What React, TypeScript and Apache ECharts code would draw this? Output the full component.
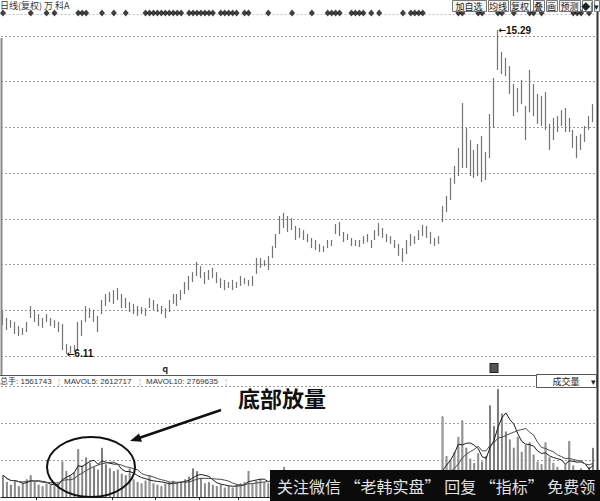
import React, { useEffect, useRef } from "react";
import * as echarts from "echarts";

// Daily bars: [open, close, low, high]
const candles: number[][] = [
  [7.30,7.00,6.93,7.36],[7.05,6.85,6.79,7.13],[6.90,7.02,6.85,7.07],[6.98,6.72,6.68,7.02],[6.70,6.85,6.62,6.90],
  [6.80,6.68,6.65,6.85],[6.75,6.98,6.73,7.02],[7.15,7.42,7.13,7.47],[7.33,7.08,7.02,7.36],[7.10,6.95,6.90,7.24],
  [6.92,7.10,6.85,7.13],[7.08,7.20,7.02,7.24],[7.10,6.95,6.90,7.13],[6.95,6.90,6.85,7.07],[6.98,6.78,6.73,7.02],
  [6.90,6.30,6.22,6.96],[6.30,6.20,6.11,6.39],[6.20,6.28,6.14,6.34],[6.30,6.22,6.17,6.36],[6.25,6.95,6.22,7.02],
  [6.95,6.70,6.62,7.07],[7.05,7.40,7.02,7.47],[7.38,7.20,7.13,7.41],[7.20,7.30,7.02,7.36],[7.15,6.80,6.73,7.19],
  [7.28,7.60,7.24,7.64],[7.55,7.75,7.47,7.81],[7.78,7.65,7.58,7.87],[7.60,7.88,7.53,7.92],[7.90,7.70,7.64,7.98],
  [7.75,7.45,7.41,7.81],[7.48,7.62,7.41,7.70],[7.55,7.35,7.30,7.58],[7.35,7.48,7.24,7.53],[7.45,7.25,7.19,7.47],
  [7.28,7.40,7.24,7.44],[7.38,7.22,7.19,7.41],[7.45,7.66,7.41,7.70],[7.60,7.40,7.36,7.64],[7.45,7.35,7.30,7.53],
  [7.30,7.42,7.24,7.47],[7.38,7.18,7.13,7.41],[7.32,7.60,7.30,7.64],[7.58,7.78,7.53,7.81],[7.75,7.52,7.47,7.81],
  [7.66,7.88,7.64,7.92],[7.85,8.10,7.81,8.15],[8.00,8.28,7.92,8.32],[8.20,8.40,8.15,8.43],[8.38,8.68,8.32,8.72],
  [8.55,8.30,8.26,8.60],[8.35,8.15,8.09,8.43],[8.25,8.45,8.21,8.49],[8.45,8.30,8.26,8.55],[8.38,8.15,8.12,8.43],
  [8.20,8.02,7.98,8.26],[8.00,8.15,7.92,8.21],[8.12,8.02,7.98,8.15],[8.00,8.18,7.92,8.21],[8.12,8.03,7.98,8.15],
  [8.06,8.28,8.04,8.32],[8.22,8.12,8.09,8.26],[8.15,8.08,8.04,8.21],[8.08,8.30,8.04,8.32],[8.42,8.78,8.38,8.83],
  [8.75,8.60,8.55,8.83],[8.65,8.72,8.60,8.77],[8.70,8.55,8.49,8.89],[8.85,9.12,8.83,9.17],[9.15,9.45,9.11,9.51],
  [9.55,9.95,9.51,10.02],[9.95,9.75,9.68,10.11],[9.75,9.95,9.57,10.02],[9.90,9.68,9.62,9.96],[9.68,9.40,9.34,9.74],
  [9.45,9.62,9.40,9.68],[9.58,9.38,9.34,9.62],[9.40,9.32,9.28,9.51],[9.35,9.15,9.11,9.40],[9.15,9.28,9.06,9.34],
  [9.20,9.05,9.00,9.23],[9.05,9.12,9.00,9.17],[9.14,9.30,9.11,9.34],[9.28,9.20,9.17,9.34],[9.55,9.75,9.51,9.79],
  [9.78,9.50,9.45,9.85],[9.52,9.32,9.28,9.57],[9.36,9.48,9.34,9.51],[9.38,9.20,9.17,9.40],[9.22,9.30,9.17,9.34],
  [9.30,9.18,9.14,9.34],[9.25,9.42,9.23,9.45],[9.40,9.32,9.28,9.51],[9.30,9.15,9.11,9.34],[9.36,9.58,9.34,9.62],
  [9.55,9.78,9.45,9.82],[9.65,9.45,9.40,9.68],[9.48,9.32,9.28,9.51],[9.35,9.26,9.23,9.45],[9.28,9.15,9.11,9.34],
  [9.15,8.95,8.89,9.23],[8.95,8.80,8.72,9.11],[8.98,9.30,8.94,9.34],[9.25,9.45,9.17,9.51],[9.42,9.28,9.23,9.45],
  [9.36,9.58,9.34,9.62],[9.55,9.72,9.45,9.77],[9.70,9.45,9.40,9.74],[9.50,9.28,9.23,9.57],[9.28,9.22,9.17,9.40],
  [9.25,9.42,9.23,9.45],[9.90,10.25,9.85,10.30],[10.20,10.52,10.13,10.59],[10.52,11.02,10.47,11.10],[11.00,11.38,10.93,11.44],
  [11.30,11.85,11.15,11.95],[11.90,12.20,11.38,13.22],[12.30,11.60,11.38,12.51],[11.70,11.40,11.15,12.17],[11.40,11.75,11.10,11.89],
  [11.75,11.30,11.15,12.06],[11.30,12.10,10.98,12.29],[11.70,11.20,11.04,11.83],[11.70,12.85,11.66,12.91],[12.60,13.85,12.51,13.93],
  [14.20,14.50,14.16,15.29],[14.55,14.15,14.04,14.67],[14.10,14.40,13.98,14.50],[14.20,13.55,13.48,14.27],[13.60,12.95,12.85,13.76],
  [13.00,13.55,12.96,13.65],[13.50,13.30,13.19,13.87],[13.10,12.30,12.17,13.14],[13.00,14.00,12.96,14.16],[13.70,12.95,12.85,13.76],
  [12.95,13.30,12.63,13.48],[13.30,12.70,12.57,13.42],[12.70,13.40,12.46,13.53],[12.55,12.00,11.89,12.63],[12.20,12.70,12.17,12.80],
  [12.70,12.50,12.40,12.85],[12.60,12.95,12.57,13.02],[12.95,12.50,12.40,13.08],[12.50,12.72,12.40,12.80],[12.40,12.05,11.95,12.46],
  [12.10,11.80,11.66,12.29],[11.95,12.25,11.89,12.34],[12.20,12.50,12.12,12.57],[12.50,12.80,12.46,12.85],[12.75,13.10,12.68,13.19],
];

// Volume in units of 10,000 lots (万手)
const volumes: number[] = [
  160,110,90,120,80,100,130,160,110,90,80,100,90,80,100,
  260,190,160,180,350,230,290,250,220,200,360,240,210,190,200,170,160,210,130,110,100,
  120,160,100,90,80,100,110,120,100,110,130,150,210,190,140,100,110,90,80,90,70,80,70,90,100,
  110,190,100,120,130,110,100,140,160,180,220,150,120,110,100,90,100,80,90,80,70,90,80,140,150,
  100,90,80,70,80,90,80,90,110,130,100,90,80,90,100,120,110,100,90,110,120,100,90,80,100,
  590,300,270,330,440,560,360,280,250,320,260,300,670,520,790,610,480,420,360,440,330,380,400,310,260,240,400,290,250,220,200,240,410,230,190,210,170,220,360,
];

// Bars that carry an information marker (diamond row)
const eventBars: number[] = [0,7,11,13,19,20,21,25,28,31,36,37,38,39,40,41,42,43,44,45,47,48,49,50,51,52,53,55,56,57,58,59,61,62,67,73,78,82,83,84,85,88,89,90,91,93,95,101,103,104,105,106,115,116,120,121,125,126,129,133,134,136,144,145,146,148];

// Period labels on the date axis
const periodLabels: Record<number, string> = { 41: "q", 124: "box" };
// Month ticks on the volume axis
const volTickBars: number[] = [9, 28, 39, 50, 60];

const headerTexts = { total: "总手: 1561743", ma5: "MAVOL5: 2612717", ma10: "MAVOL10: 2769635" };
const toolbarLabels = ["加自选", "均线", "复权", "叠", "画", "预测", "◆|", "▾"];
const title = "日线(复权) 万 科A";
const annotation = "底部放量";
const bannerText = "关注微信 “老韩实盘” 回复 “指标” 免费领";

const categories = candles.map((_, i) => "D" + (i + 1));

function movingAverage(data: number[], n: number): number[] {
  return data.map((_, i) => {
    const s = Math.max(0, i - n + 1);
    const w = data.slice(s, i + 1);
    return Math.round((w.reduce((a, b) => a + b, 0) / w.length) * 10) / 10;
  });
}

const LAT = '"Liberation Sans", Arial, "Noto Sans CJK SC", sans-serif';
const CJK = '"Noto Sans CJK SC", "Liberation Sans", sans-serif';

export default function App() {
  const ref = useRef<HTMLDivElement>(null);
  useEffect(() => {
    if (!ref.current) return;
    const chart = echarts.init(ref.current, undefined, { renderer: "svg" });
    const ma5 = movingAverage(volumes, 5);
    const ma10 = movingAverage(volumes, 10);
    const volData = volumes.map((v, i) => {
      const up = candles[i][1] >= candles[i][0];
      return {
        value: v,
        itemStyle: up
          ? { color: "#ffffff", borderColor: "#7a7a7a", borderWidth: 1 }
          : { color: "#8a8a8a", borderColor: "#8a8a8a", borderWidth: 0 },
      };
    });

    const toolbarBoxes = [[452, 486], [488, 508], [510, 530], [533, 544], [546, 557], [559, 580], [582, 592], [594, 599]];
    const graphics: any[] = [];
    graphics.push({ type: "text", z: 100, style: { text: title, x: 0, y: 5, fill: "#333", fontSize: 9, fontFamily: CJK, textVerticalAlign: "middle" } });
    toolbarLabels.forEach((lab, k) => {
      const [a, b] = toolbarBoxes[k];
      graphics.push({ type: "rect", z: 100, shape: { x: a + 0.5, y: 0.5, width: b - a, height: 11 }, style: { fill: "#f4f4f4", stroke: "#777", lineWidth: 1 } });
      graphics.push({ type: "text", z: 101, style: { text: lab, x: (a + b) / 2, y: 6.5, fill: "#222", fontSize: 9, fontFamily: CJK, textAlign: "center", textVerticalAlign: "middle" } });
    });
    // frame lines
    graphics.push({ type: "line", z: 100, shape: { x1: 1.5, y1: 38, x2: 1.5, y2: 375 }, style: { stroke: "#8a8a8a", lineWidth: 2 } });
    graphics.push({ type: "line", z: 100, shape: { x1: 597.5, y1: 12, x2: 597.5, y2: 501 }, style: { stroke: "#333", lineWidth: 2 } });
    graphics.push({ type: "line", z: 100, shape: { x1: 0, y1: 375.5, x2: 536, y2: 375.5 }, style: { stroke: "#555", lineWidth: 1 } });
    // 成交量 dropdown
    graphics.push({ type: "rect", z: 100, shape: { x: 536.5, y: 374.5, width: 60, height: 13 }, style: { fill: "#fff", stroke: "#555", lineWidth: 1 } });
    graphics.push({ type: "text", z: 101, style: { text: "成交量", x: 566, y: 381, fill: "#222", fontSize: 9, fontFamily: CJK, textAlign: "center", textVerticalAlign: "middle" } });
    graphics.push({ type: "text", z: 101, style: { text: "▾", x: 593, y: 381, fill: "#222", fontSize: 9, fontFamily: CJK, textAlign: "center", textVerticalAlign: "middle" } });
    // volume header
    const hdr: [string, number][] = [
      [headerTexts.total, 0], ["¦", 58], [headerTexts.ma5, 64], ["¦", 139], [headerTexts.ma10, 146], ["¦", 225],
    ];
    hdr.forEach(([t, x]) => {
      graphics.push({ type: "text", z: 101, style: { text: t, x, y: 381, fill: t === "¦" ? "#aaa" : "#333", fontSize: 8, fontFamily: LAT, textVerticalAlign: "middle" } });
    });
    // annotation
    graphics.push({ type: "text", z: 102, style: { text: annotation, x: 238, y: 397, fill: "#111", fontSize: 22, fontWeight: "bold", fontFamily: CJK, textVerticalAlign: "middle" } });
    graphics.push({ type: "line", z: 102, shape: { x1: 221, y1: 410, x2: 139, y2: 438 }, style: { stroke: "#111", lineWidth: 2.5 } });
    graphics.push({ type: "polygon", z: 102, shape: { points: [[130, 441], [142, 441.8], [139, 433.5]] }, style: { fill: "#111" } });
    graphics.push({ type: "ellipse", z: 102, shape: { cx: 91, cy: 467, rx: 44, ry: 30 }, style: { fill: "none", stroke: "#111", lineWidth: 2 } });
    // watermark banner
    graphics.push({ type: "rect", z: 110, shape: { x: 270, y: 470, width: 330, height: 31 }, style: { fill: "#0b0b0b" } });
    graphics.push({ type: "text", z: 111, style: { text: bannerText, x: 277, y: 486, fill: "#e2e2e2", fontSize: 16, fontFamily: CJK, textVerticalAlign: "middle" } });

    const dash = { type: [2, 2], color: "#9c9c9c", width: 1 };

    const option: any = {
      animation: false,
      backgroundColor: "#ffffff",
      textStyle: { fontFamily: LAT },
      grid: [
        { left: 1, right: 5, top: 20, height: 336 },
        { left: 1, right: 5, top: 386, height: 111 },
        { left: 1, right: 5, top: 12, height: 2 },
      ],
      xAxis: [
        {
          gridIndex: 0, type: "category", data: categories, boundaryGap: true,
          axisLine: { show: false }, axisTick: { show: false }, splitLine: { show: false },
          axisLabel: {
            show: true, margin: 8, fontSize: 9, fontWeight: "bold", color: "#111",
            interval: (i: number) => periodLabels[i] !== undefined,
            formatter: (_v: string, i: number) => (periodLabels[i] === "box" ? "{box|}" : periodLabels[i] || ""),
            rich: { box: { width: 7, height: 8, backgroundColor: "#555", borderColor: "#222", borderWidth: 1 } },
          },
        },
        {
          gridIndex: 1, type: "category", data: categories, boundaryGap: true,
          axisLine: { show: true, lineStyle: { color: "#222", width: 1 } },
          axisTick: { show: true, length: 3, lineStyle: { color: "#222" }, interval: (i: number) => volTickBars.indexOf(i) >= 0 },
          axisLabel: { show: false }, splitLine: { show: false },
        },
        {
          gridIndex: 2, type: "category", data: categories, boundaryGap: true,
          axisLine: { show: true, lineStyle: { type: [1, 3], color: "#bbb", width: 1 } },
          axisTick: { show: false }, axisLabel: { show: false }, splitLine: { show: false },
        },
      ],
      yAxis: [
        { gridIndex: 0, type: "value", min: 6.053, max: 15.574, show: false, splitLine: { show: false } },
        {
          gridIndex: 0, type: "value", min: 0, max: 7.35, interval: 1, position: "right",
          axisLine: { show: false }, axisTick: { show: false }, axisLabel: { show: false },
          splitLine: { show: true, showMaxLine: false, lineStyle: dash },
        },
        {
          gridIndex: 1, type: "value", min: 0, max: 810, interval: 270,
          axisLine: { show: false }, axisTick: { show: false }, axisLabel: { show: false },
          splitLine: { show: true, showMinLine: false, lineStyle: dash },
        },
        { gridIndex: 2, type: "value", min: 0, max: 1, show: false },
      ],
      series: [
        {
          type: "candlestick", xAxisIndex: 0, yAxisIndex: 0, data: candles, barWidth: 1,
          itemStyle: { color: "#9a9a9a", color0: "#9a9a9a", borderColor: "#737373", borderColor0: "#737373", borderWidth: 1.2 },
          markPoint: {
            symbol: "circle", symbolSize: 1, itemStyle: { color: "rgba(0,0,0,0)" },
            label: {
              show: true, position: "right", distance: 0, color: "#111",
              formatter: (p: any) => "{a|←}{b|" + Number(p.value).toFixed(2) + "}",
              rich: {
                a: { fontFamily: '"DejaVu Sans", sans-serif', fontSize: 9, color: "#111", fontWeight: "bold" },
                b: { fontFamily: LAT, fontSize: 10, color: "#111", fontWeight: "bold" },
              },
            },
            data: [
              { type: "max", valueDim: "highest", name: "最高" },
              { type: "min", valueDim: "lowest", name: "最低" },
            ],
          },
        },
        { type: "bar", xAxisIndex: 1, yAxisIndex: 2, data: volData, barWidth: 2 },
        { type: "line", xAxisIndex: 1, yAxisIndex: 2, data: ma5, symbol: "none", lineStyle: { color: "#1a1a1a", width: 1 } },
        { type: "line", xAxisIndex: 1, yAxisIndex: 2, data: ma10, symbol: "none", lineStyle: { color: "#4a4a4a", width: 1 } },
        {
          type: "scatter", xAxisIndex: 2, yAxisIndex: 3, symbol: "diamond", symbolSize: [6, 7],
          itemStyle: { color: "#111" }, data: eventBars.map((i) => [i, 0.5]),
        },
      ],
      graphic: { elements: graphics },
    };
    chart.setOption(option);
    return () => chart.dispose();
  }, []);
  return <div ref={ref} style={{ position: "fixed", left: 0, top: 0, width: 600, height: 501, background: "#fff" }} />;
}
